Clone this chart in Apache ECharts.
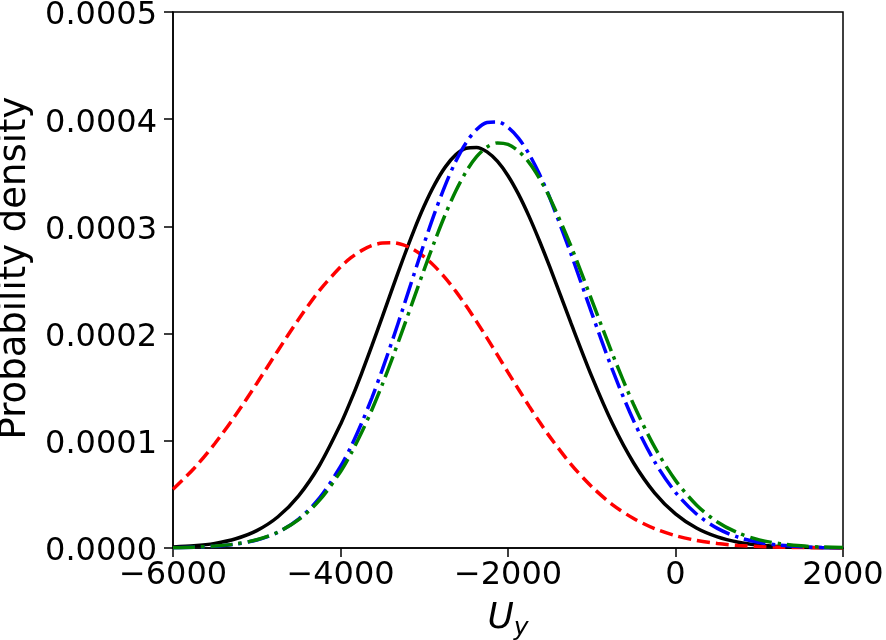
<!DOCTYPE html>
<html>
<head>
<meta charset="utf-8">
<script src="https://cdn.jsdelivr.net/npm/echarts@6/dist/echarts.min.js"></script>
<style>
  html, body { margin: 0; padding: 0; background: #fff; }
  #main { width: 886px; height: 640px; }
</style>
</head>
<body>
<div id="main"></div>
<script>
// x positions of the density estimates (U_y), denser around the peaks
const uy = [-6000, -5750, -5500, -5250, -5000, -4750, -4500, -4250, -4000,
  -3875, -3750, -3625, -3500, -3375, -3250, -3125, -3000, -2875, -2750, -2625, -2500, -2375,
  -2250, -2125, -2000, -1875, -1750, -1625, -1500,
  -1250, -1000, -750, -500, -250, 0, 250, 500, 750, 1000, 1250, 1500, 1750, 2000];

// black solid
const densBlack = [0.0000009, 0.0000020, 0.0000043, 0.0000086, 0.0000162, 0.0000289, 0.0000487, 0.0000772, 0.0001153,
  0.0001379, 0.0001625, 0.0001887, 0.0002158, 0.0002433, 0.0002703, 0.0002959, 0.0003192, 0.0003392, 0.0003553, 0.0003667, 0.0003729, 0.0003737,
  0.0003695, 0.0003606, 0.0003473, 0.0003301, 0.0003096, 0.0002866, 0.0002619,
  0.0002102, 0.0001601, 0.0001156, 0.0000793, 0.0000515, 0.0000318, 0.0000186, 0.0000103, 0.0000054, 0.0000027, 0.0000013, 0.0000006, 0.0000002, 0.0000001];

// red dashed
const densRed = [0.0000547, 0.0000742, 0.0000975, 0.0001242, 0.0001535, 0.0001838, 0.0002134, 0.0002403, 0.0002622,
  0.0002708, 0.0002774, 0.0002821, 0.0002845, 0.0002848, 0.0002827, 0.0002783, 0.0002716, 0.0002627, 0.0002520, 0.0002396, 0.0002259, 0.0002112,
  0.0001958, 0.0001799, 0.0001639, 0.0001481, 0.0001326, 0.0001177, 0.0001037,
  0.0000783, 0.0000572, 0.0000403, 0.0000275, 0.0000181, 0.0000115, 0.0000071, 0.0000042, 0.0000024, 0.0000013, 0.0000007, 0.0000004, 0.0000002, 0.0000001];

// blue dash-dot
const densBlue = [0.0000003, 0.0000007, 0.0000016, 0.0000036, 0.0000075, 0.0000146, 0.0000270, 0.0000467, 0.0000760,
  0.0000946, 0.0001161, 0.0001401, 0.0001666, 0.0001949, 0.0002245, 0.0002547, 0.0002844, 0.0003126, 0.0003383, 0.0003605, 0.0003781, 0.0003905,
  0.0003970, 0.0003975, 0.0003925, 0.0003824, 0.0003677, 0.0003488, 0.0003264,
  0.0002747, 0.0002191, 0.0001656, 0.0001187, 0.0000806, 0.0000519, 0.0000317, 0.0000183, 0.0000100, 0.0000052, 0.0000026, 0.0000012, 0.0000005, 0.0000002];

// green dash-dot
const densGreen = [0.0000003, 0.0000008, 0.0000018, 0.0000038, 0.0000077, 0.0000147, 0.0000264, 0.0000446, 0.0000712,
  0.0000881, 0.0001074, 0.0001290, 0.0001527, 0.0001783, 0.0002051, 0.0002326, 0.0002600, 0.0002863, 0.0003109, 0.0003328, 0.0003511, 0.0003650,
  0.0003741, 0.0003779, 0.0003765, 0.0003703, 0.0003597, 0.0003449, 0.0003266,
  0.0002820, 0.0002313, 0.0001804, 0.0001338, 0.0000943, 0.0000631, 0.0000402, 0.0000243, 0.0000140, 0.0000076, 0.0000040, 0.0000020, 0.0000009, 0.0000004];

const xTicks = [-6000, -4000, -2000, 0, 2000];
const yTicks = ['0.0000', '0.0001', '0.0002', '0.0003', '0.0004', '0.0005'];

const font = 'DejaVu Sans';
const pairs = arr => uy.map((x, i) => [x, arr[i]]);

const chart = echarts.init(document.getElementById('main'));

function curve(name, data, color, dash) {
  return {
    name: name,
    type: 'line',
    data: pairs(data),
    smooth: 0.3,
    showSymbol: false,
    symbol: 'none',
    lineStyle: { color: color, width: 3.5, type: dash },
    animation: false
  };
}

chart.setOption({
  backgroundColor: '#fff',
  animation: false,
  grid: {
    left: 173, right: 43, top: 12, bottom: 92,
    outerBoundsMode: 'none',
    containLabel: false,
    show: true, borderColor: '#000', borderWidth: 1.5, backgroundColor: 'transparent'
  },
  xAxis: {
    type: 'value',
    min: xTicks[0], max: xTicks[xTicks.length - 1], interval: 2000,
    name: '{i|U}{s|y}',
    nameLocation: 'middle',
    nameGap: 48,
    nameTextStyle: {
      rich: {
        i: { fontFamily: font, fontStyle: 'italic', fontSize: 36, color: '#000' },
        s: { fontFamily: font, fontStyle: 'italic', fontSize: 25, color: '#000', padding: [20, 0, 0, 0] }
      }
    },
    axisLine: { show: true, onZero: false, lineStyle: { color: '#000', width: 1.5 } },
    axisTick: { show: true, inside: false, length: 9, lineStyle: { color: '#000', width: 1.5 } },
    axisLabel: {
      fontFamily: font, fontSize: 32, color: '#000', margin: 12,
      formatter: v => String(v).replace('-', '\u2212')
    },
    splitLine: { show: false }
  },
  yAxis: {
    type: 'value',
    min: 0, max: 0.0005, interval: 0.0001,
    name: 'Probability density',
    nameLocation: 'middle',
    nameGap: 134,
    nameTextStyle: { fontFamily: font, fontSize: 37, color: '#000', padding: [0, 0, 0, 24] },
    axisLine: { show: true, onZero: false, lineStyle: { color: '#000', width: 1.5 } },
    axisTick: { show: true, inside: false, length: 9, lineStyle: { color: '#000', width: 1.5 } },
    axisLabel: {
      color: '#000', margin: 16,
      formatter: v => '{t|' + yTicks[Math.round(v / 0.0001)] + '}',
      rich: {
        t: { fontFamily: font, fontSize: 32, color: '#000', padding: [8, 0, 0, 0] }
      }
    },
    splitLine: { show: false }
  },
  series: [
    curve('black', densBlack, '#000000', 'solid'),
    curve('red', densRed, '#ff0000', [13, 6]),
    curve('blue', densBlue, '#0000ff', [22, 6, 3.5, 6]),
    curve('green', densGreen, '#008000', [22, 6, 3.5, 6])
  ]
});
</script>
</body>
</html>
